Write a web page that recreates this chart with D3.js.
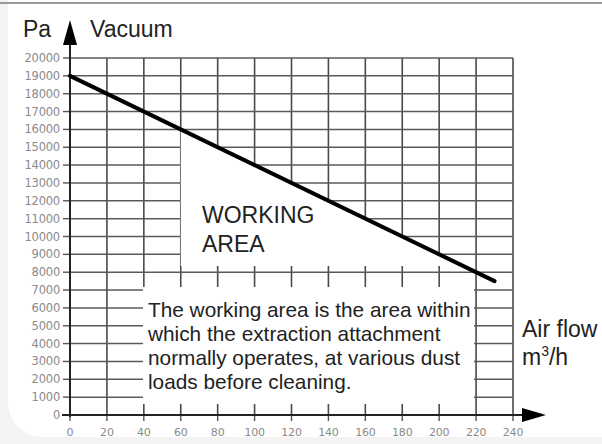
<!DOCTYPE html>
<html><head><meta charset="utf-8">
<script src="https://cdn.jsdelivr.net/npm/d3@7"></script>
<style>html,body{margin:0;padding:0;background:#fff;}svg{display:block;}</style>
</head><body>
<svg id="c" width="602" height="444"></svg>
<script>
const xTicks = [0,20,40,60,80,100,120,140,160,180,200,220,240];
const yTicks = [0,1000,2000,3000,4000,5000,6000,7000,8000,9000,10000,11000,12000,13000,14000,15000,16000,17000,18000,19000,20000];
const flow = [0, 230];
const vacuum = [19000, 7500];
const workingFlow = [60, 60, 213];
const workingVac = [8350, 16000, 8350];
const noteLines = ["The working area is the area within","which the extraction attachment","normally operates, at various dust","loads before cleaning."];

const svg = d3.select("#c");
const x = d3.scaleLinear().domain([0,240]).range([70,513]);
const y = d3.scaleLinear().domain([0,20000]).range([415,58]);
const font = "Liberation Sans, Arial, Helvetica, sans-serif";
const tickFont = "DejaVu Sans, sans-serif";

// background
svg.append("rect").attr("width",602).attr("height",444).attr("fill","#f3f3f3");
svg.append("rect").attr("x",8).attr("y",-40).attr("width",640).attr("height",477).attr("rx",34).attr("fill","#fff");
svg.append("rect").attr("x",0).attr("y",2).attr("width",602).attr("height",2).attr("fill","#999");

// grid
const g = svg.append("g");
g.selectAll(".vg").data(xTicks.slice(1)).join("line")
  .attr("x1",d=>x(d)).attr("x2",d=>x(d)).attr("y1",y(20000)).attr("y2",y(0))
  .attr("stroke","#4a4a4a").attr("stroke-width",1.6);
g.selectAll(".hg").data(yTicks.slice(1)).join("line")
  .attr("x1",x(0)).attr("x2",x(240)).attr("y1",d=>y(d)).attr("y2",d=>y(d))
  .attr("stroke","#5a5a5a").attr("stroke-width",1.5);

// x ticks
g.selectAll(".xt").data(xTicks).join("line")
  .attr("x1",d=>x(d)).attr("x2",d=>x(d)).attr("y1",y(0)).attr("y2",y(0)+6)
  .attr("stroke","#555").attr("stroke-width",1.4);
// y ticks
g.selectAll(".yt").data(yTicks).join("line")
  .attr("x1",x(0)-7).attr("x2",x(0)).attr("y1",d=>y(d)).attr("y2",d=>y(d))
  .attr("stroke","#555").attr("stroke-width",1.4);

// working area white polygon
svg.append("polygon")
  .attr("points", workingFlow.map((f,i)=>[x(f),y(workingVac[i])].join(",")).join(" "))
  .attr("fill","#fff");

// note box
svg.append("rect").attr("x",143).attr("y",287).attr("width",331).attr("height",117).attr("fill","#fff");

// axes
svg.append("line").attr("x1",x(0)).attr("x2",x(0)).attr("y1",44).attr("y2",y(0)+2)
  .attr("stroke","#222").attr("stroke-width",2);
svg.append("line").attr("x1",62).attr("x2",524).attr("y1",y(0)).attr("y2",y(0))
  .attr("stroke","#222").attr("stroke-width",2);
svg.append("path").attr("d",`M${x(0)},20 L${x(0)-7},45 L${x(0)+7},45 Z`).attr("fill","#000");
svg.append("path").attr("d",`M546,${y(0)} L522,${y(0)-7} L522,${y(0)+7} Z`).attr("fill","#000");

// line
svg.append("path").datum(flow.map((f,i)=>[f,vacuum[i]]))
  .attr("d", d3.line().x(d=>x(d[0])).y(d=>y(d[1])))
  .attr("fill","none").attr("stroke","#000").attr("stroke-width",4).attr("stroke-linecap","round");

// tick labels
svg.selectAll(".yl").data(yTicks).join("text")
  .attr("x",60).attr("y",d=>y(d)+4).attr("text-anchor","end")
  .attr("font-family",tickFont).attr("font-size",11.5).attr("fill","#8a8a8a").attr("letter-spacing",-0.2)
  .text(d=>d);
svg.selectAll(".xl").data(xTicks).join("text")
  .attr("x",d=>x(d)).attr("y",436).attr("text-anchor","middle")
  .attr("font-family",tickFont).attr("font-size",11).attr("fill","#8a8a8a").attr("letter-spacing",-0.2)
  .text(d=>d);

// labels
const lab = (t,xx,yy,fs)=>svg.append("text").attr("x",xx).attr("y",yy).attr("font-family",font)
  .attr("font-size",fs).attr("fill","#222").text(t);
lab("Pa",23,37,23);
lab("Vacuum",90,37,23);
lab("WORKING",202,223,23);
lab("AREA",202,252,23);
noteLines.forEach((t,i)=>lab(t,148,317+i*24,20.8));
lab("Air flow",522,337,23);
const m = svg.append("text").attr("x",522).attr("y",365).attr("font-family",font).attr("font-size",23).attr("fill","#222");
m.append("tspan").text("m");
m.append("tspan").attr("font-size",14).attr("dy",-9).text("3");
m.append("tspan").attr("dy",9).text("/h");
</script>
</body></html>
